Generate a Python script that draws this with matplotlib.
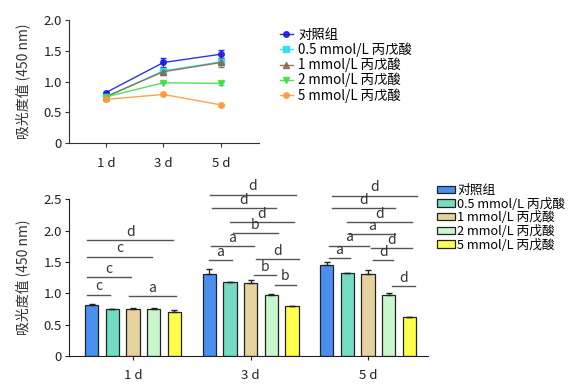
import numpy as np
import matplotlib
matplotlib.use("Agg")
import matplotlib.pyplot as plt

plt.rcParams['font.family'] = ['Noto Sans CJK SC', 'DejaVu Sans']

days = ["1 d", "3 d", "5 d"]
groups = ["对照组", "0.5 mmol/L 丙戊酸", "1 mmol/L 丙戊酸", "2 mmol/L 丙戊酸", "5 mmol/L 丙戊酸"]

# values (absorbance at 450 nm)
control = [0.82, 1.31, 1.445]
vpa_05 = [0.745, 1.175, 1.32]
vpa_1 = [0.755, 1.16, 1.31]
vpa_2 = [0.75, 0.98, 0.97]
vpa_5 = [0.71, 0.79, 0.62]

err_control = [0.01, 0.08, 0.06]
err_05 = [0.01, 0.01, 0.01]
err_1 = [0.01, 0.05, 0.07]
err_2 = [0.01, 0.01, 0.03]
err_5 = [0.02, 0.01, 0.01]

# significance bars: (day index, start bar, end bar, height, letter)
sig_lines = [
    (0, -0.21, 0.89, 0.98, "c"), (0, 1.81, 4.06, 0.96, "a"), (0, -0.21, 1.90, 1.26, "c"),
    (0, -0.21, 2.92, 1.585, "c"), (0, -0.21, 3.95, 1.845, "d"),
    (1, -0.02, 1.11, 1.53, "a"), (1, 0.08, 2.16, 1.755, "a"), (1, 1.16, 3.31, 1.96, "b"),
    (1, 1.0, 4.10, 2.14, "d"), (1, 0.13, 3.23, 2.36, "d"), (1, 0.03, 4.18, 2.575, "d"),
    (1, 2.26, 4.34, 1.54, "d"), (1, 2.18, 3.23, 1.29, "b"), (1, 3.18, 4.19, 1.14, "b"),
    (2, 0.26, 4.36, 2.56, "d"), (2, 0.26, 3.30, 2.36, "d"), (2, 1.0, 4.12, 2.13, "d"),
    (2, 1.08, 3.30, 1.95, "a"), (2, 0.12, 2.04, 1.76, "a"), (2, 2.12, 4.12, 1.72, "d"),
    (2, 0.12, 1.11, 1.56, "a"), (2, 2.23, 3.22, 1.53, "d"), (2, 3.14, 4.26, 1.12, "d"),
]

values = [control, vpa_05, vpa_1, vpa_2, vpa_5]
errors = [err_control, err_05, err_1, err_2, err_5]

fig = plt.figure(figsize=(5.77, 3.86), dpi=100)

# ---- top: line chart ----
ax1 = fig.add_axes([0.1196, 0.6295, 0.3294, 0.3185])
line_colors = ['#1a1ae6', '#22e0f0', '#8b6a4e', '#44dd44', '#ff9a3c']
markers = ['o', 's', '^', 'v', 'o']
x = np.arange(len(days))
for i in range(len(groups)):
    ax1.errorbar(x, values[i], yerr=errors[i], color=line_colors[i], marker=markers[i],
                 markersize=4, lw=1, capsize=2, elinewidth=0.8, alpha=0.9)
    ax1.plot([], [], color=line_colors[i], marker=markers[i], markersize=4, lw=1,
             alpha=0.9, label=groups[i])
ax1.set_xlim(-0.64, 2.66)
ax1.set_ylim(0, 2.0)
ax1.set_yticks([0, 0.5, 1.0, 1.5, 2.0])
ax1.set_yticklabels(["0", "0.5", "1.0", "1.5", "2.0"])
ax1.set_xticks(x)
ax1.set_xticklabels(days)
ax1.spines['top'].set_visible(False)
ax1.spines['right'].set_visible(False)
for s in ['left', 'bottom']:
    ax1.spines[s].set_color('#333333')
ax1.tick_params(labelsize=9.5, length=3, color='#333333', pad=2, labelcolor='#222222')
ax1.tick_params(axis='x', pad=7)
ax1.set_ylabel("吸光度值 (450 nm)", fontsize=10, color='#333333', labelpad=10)
ax1.legend(loc='upper left', bbox_to_anchor=(1.08, 0.98), frameon=False, fontsize=9.6,
           handlelength=1.0, handletextpad=0.4, labelspacing=0.05, borderaxespad=0)

# ---- bottom: bar chart ----
ax2 = fig.add_axes([0.1196, 0.0777, 0.6222, 0.4060])
bar_colors = ['#4a90f0', '#74dcc2', '#e6d29e', '#c8f7cc', '#ffff4c']
spacing = 0.176
width = 0.113
for i in range(len(groups)):
    pos = x + (i - 2) * spacing
    ax2.bar(pos, values[i], width=width, color=bar_colors[i], edgecolor='#222222', lw=0.9,
            label=groups[i], zorder=2)
    ax2.errorbar(pos, values[i], yerr=[[0] * 3, errors[i]], fmt='none', ecolor='#222222',
                 elinewidth=0.9, capsize=2.5, zorder=3)

for d, a, b, h, letter in sig_lines:
    x0 = d + (a - 2) * spacing
    x1 = d + (b - 2) * spacing
    ax2.plot([x0, x1], [h, h], color='#555555', lw=1, clip_on=False)
    ax2.text((x0 + x1) / 2, h + 0.02, letter, ha='center', va='bottom', fontsize=10,
             color='#333333', clip_on=False)

ax2.set_xlim(-0.545, 2.51)
ax2.set_ylim(0, 2.5)
ax2.set_yticks([0, 0.5, 1.0, 1.5, 2.0, 2.5])
ax2.set_yticklabels(["0", "0.5", "1.0", "1.5", "2.0", "2.5"])
ax2.set_xticks(x)
ax2.set_xticklabels(days)
ax2.spines['top'].set_visible(False)
ax2.spines['right'].set_visible(False)
for s in ['left', 'bottom']:
    ax2.spines[s].set_color('#222222')
ax2.tick_params(labelsize=9.5, length=3, color='#222222', pad=2, labelcolor='#222222')
ax2.tick_params(axis='x', pad=6)
ax2.set_ylabel("吸光度值 (450 nm)", fontsize=10, color='#333333', labelpad=10)
ax2.legend(loc='upper left', bbox_to_anchor=(1.012, 1.13), frameon=False, fontsize=9.2,
           handlelength=1.4, handleheight=0.5, handletextpad=0.15, labelspacing=0.05,
           borderaxespad=0)

fig.savefig("out.png", dpi=100)
